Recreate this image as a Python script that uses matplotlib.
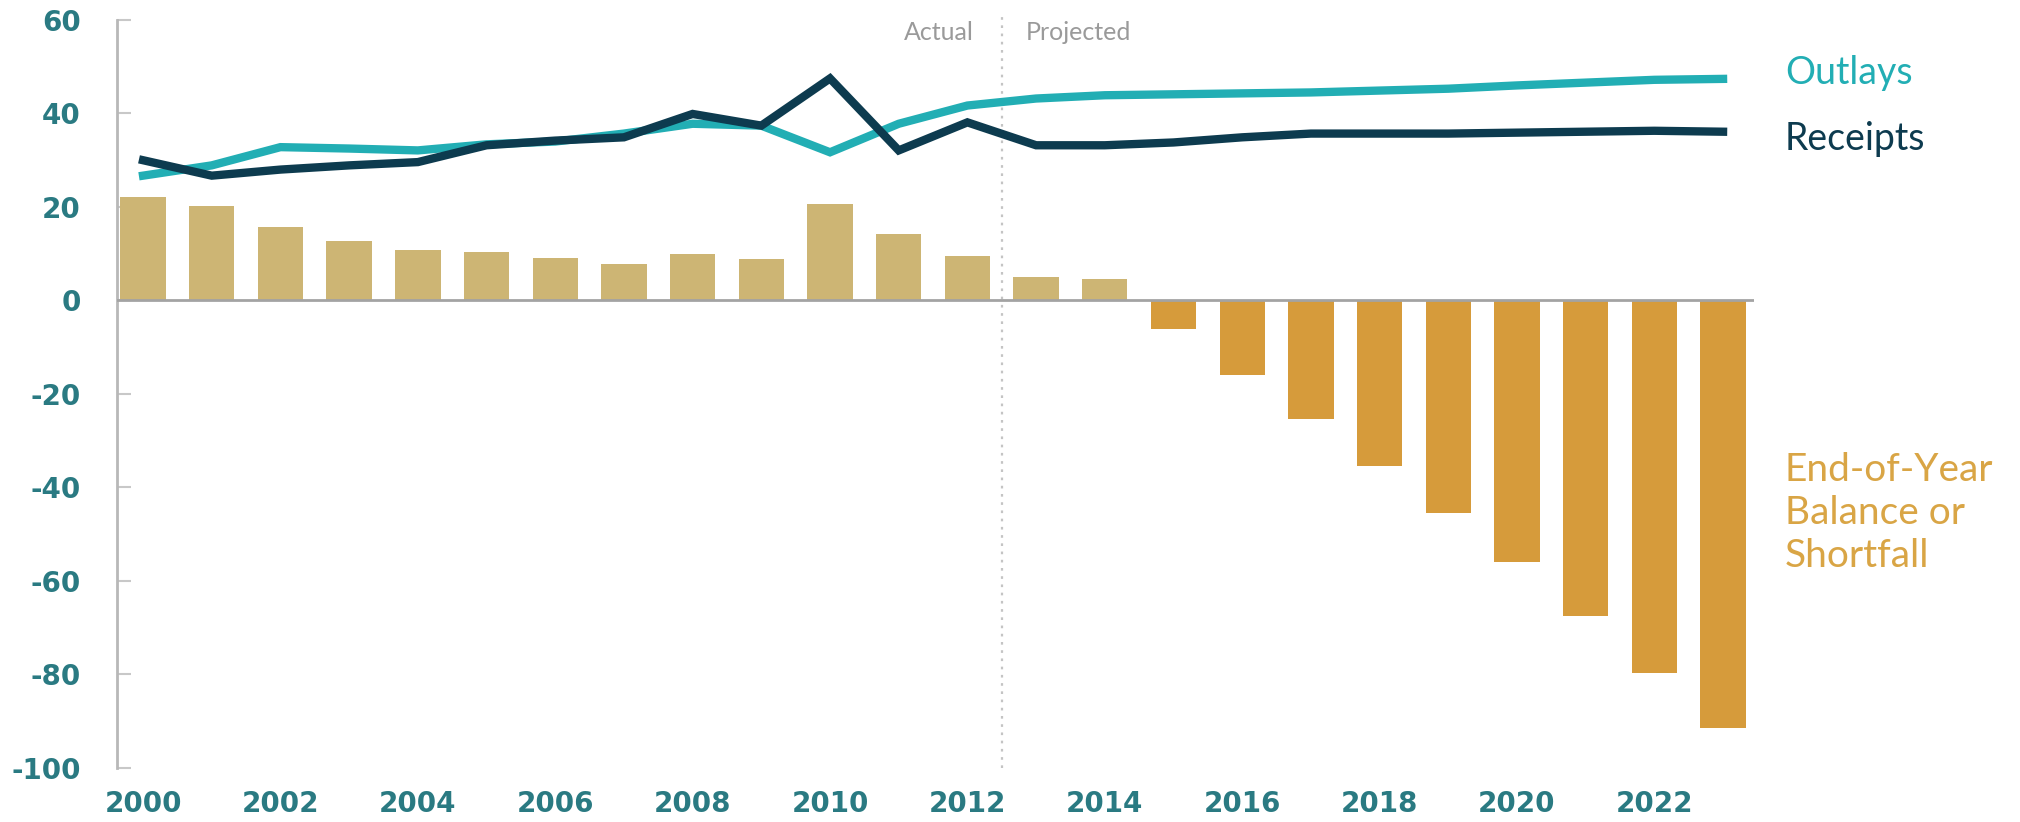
import matplotlib
matplotlib.use("Agg")
import matplotlib.pyplot as plt

plt.rcParams["axes.unicode_minus"] = False

# Fund operations, billions of dollars
years = list(range(2000, 2024))
balance = [22.2, 20.2, 15.8, 12.8, 10.7, 10.3, 9.0, 7.9, 10.0, 8.8, 20.7, 14.3,
           9.6, 5.1, 4.6, -6.1, -16.0, -25.4, -35.3, -45.5, -56.0, -67.4, -79.6, -91.5]
outlays = [26.7, 28.9, 32.8, 32.5, 32.1, 33.4, 34.0, 35.7, 37.8, 37.4, 31.7, 37.8,
           41.7, 43.2, 43.9, 44.1, 44.3, 44.5, 44.9, 45.3, 46.0, 46.6, 47.2, 47.4]
receipts = [30.0, 26.7, 28.0, 28.9, 29.6, 33.2, 34.2, 34.9, 39.9, 37.4, 47.5, 32.1,
            38.1, 33.2, 33.2, 33.8, 34.9, 35.7, 35.7, 35.7, 35.9, 36.1, 36.3, 36.1]
xtick_years = list(range(2000, 2023, 2))
yticks = list(range(-100, 61, 20))

TAN = "#CDB574"
GOLD = "#D69B3B"
TEAL = "#22AEB4"
NAVY = "#0D3B4F"
TICK = "#2A7A82"

fig = plt.figure(figsize=(20.2, 8.22), dpi=100)
ax = fig.add_axes([0.0579, 0.0657, 0.8104, 0.91])

colors = [TAN if v >= 0 else GOLD for v in balance]
ax.bar(years, balance, width=0.66, color=colors, zorder=2)
ax.axhline(0, color="#a3a3a3", lw=2, zorder=3)

ax.plot(years, outlays, color=TEAL, lw=6, zorder=4, solid_joinstyle="miter")
ax.plot(years, receipts, color=NAVY, lw=6, zorder=5, solid_joinstyle="miter")

# split between actual and projected years
ax.plot([2012.5, 2012.5], [-100, 61], color="#c4c4c4", lw=1.6,
        linestyle=(0, (1.2, 2.5)), zorder=1, clip_on=False)
ax.text(2012.1, 57.3, "Actual", ha="right", va="center", color="#9a9a9a",
        fontsize=18, family="Lato")
ax.text(2012.85, 57.3, "Projected", ha="left", va="center", color="#9a9a9a",
        fontsize=18, family="Lato")

# series labels on the right
ax.text(2023.9, 48.6, "Outlays", color=TEAL, fontsize=27, family="Lato",
        ha="left", va="center", clip_on=False)
ax.text(2023.9, 34.6, "Receipts", color=NAVY, fontsize=27, family="Lato",
        ha="left", va="center", clip_on=False)
ax.text(2023.9, -45.5, "End-of-Year\nBalance or\nShortfall", color="#D9A545",
        fontsize=28, family="Lato", ha="left", va="center", linespacing=1.25,
        clip_on=False)

ax.set_xlim(1999.62, 2023.45)
ax.set_ylim(-100, 60)
ax.set_xticks(xtick_years)
ax.set_xticklabels([str(y) for y in xtick_years])
ax.set_yticks(yticks)

for side in ["top", "right", "bottom"]:
    ax.spines[side].set_visible(False)
ax.spines["left"].set_color("#b8b8b8")
ax.spines["left"].set_linewidth(2)

ax.tick_params(axis="y", direction="in", length=10, width=1.5, color="#c8c8c8",
               pad=26, labelsize=20, labelcolor=TICK)
ax.tick_params(axis="x", length=0, pad=16, labelsize=20, labelcolor=TICK)
for lab in ax.get_xticklabels() + ax.get_yticklabels():
    lab.set_fontweight("bold")

fig.savefig("out.png", dpi=100, facecolor="white")
